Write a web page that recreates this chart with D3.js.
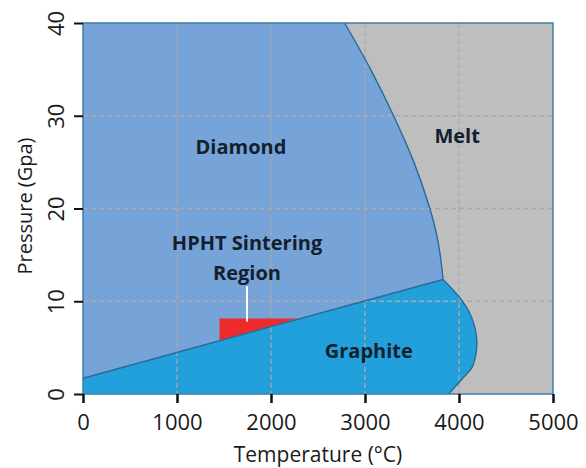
<!DOCTYPE html>
<html>
<head>
<meta charset="utf-8">
<script src="https://cdn.jsdelivr.net/npm/d3@7"></script>
<style>
  body { margin: 0; background: #fff; }
  text { font-family: "Open Sans", sans-serif; }
</style>
</head>
<body>
<svg width="586" height="468"></svg>
<script>
// phase boundaries, [temperature °C, pressure GPa]
var triplePoint = [3830, 12.35];
var diamondGraphiteLine = [[0, 1.7], triplePoint];
var diamondMeltCurve = [triplePoint, [3800, 15], [3755, 17.5], [3690, 20], [3520, 25], [3304, 30], [3060, 35], [2783, 40]];
var graphiteMeltCurve = [triplePoint, [3925, 11.35], [4014, 10.3], [4100, 9.0], [4160, 7.5], [4190, 5.8], [4180, 4.3], [4140, 2.9], [4040, 1.7], [3889, 0]];
var sinteringRegion = [[1452, 8.15], [2285, 8.15], [1452, 5.74]];
var pointer = [[1745, 7.8], [1745, 11.6]];

var xTicks = [0, 1000, 2000, 3000, 4000, 5000];
var yTicks = [0, 10, 20, 30, 40];

var labels = [
  {text: "Diamond", t: 1680, p: 26.6},
  {text: "Melt", t: 3980, p: 27.8},
  {text: "HPHT Sintering", t: 1745, p: 16.3},
  {text: "Region", t: 1745, p: 13.0},
  {text: "Graphite", t: 3040, p: 4.6}
];

var svg = d3.select("svg"),
    margin = {top: 23, right: 33, bottom: 74, left: 83},
    width = 586 - margin.left - margin.right,
    height = 468 - margin.top - margin.bottom;

var g = svg.append("g").attr("transform", "translate(" + margin.left + "," + margin.top + ")");

var x = d3.scaleLinear().domain([0, 5000]).range([0, width]);
var y = d3.scaleLinear().domain([0, 40]).range([height, 0]);

var line = d3.line().x(d => x(d[0])).y(d => y(d[1]));
var smooth = d3.line().x(d => x(d[0])).y(d => y(d[1])).curve(d3.curveCatmullRom.alpha(0.5));

// strip the leading "M x,y" so a curve can be appended to a path
function tail(path) {
  var i = path.search(/[CL]/);
  return path.slice(i);
}

// melt is the background
g.append("rect").attr("width", width).attr("height", height).attr("fill", "#bebebe");

// diamond field
var dm = smooth(diamondMeltCurve);
g.append("path")
  .attr("d", "M" + x(0) + "," + y(40) + "L" + x(0) + "," + y(1.7) + "L" + x(triplePoint[0]) + "," + y(triplePoint[1]) + tail(dm) + "Z")
  .attr("fill", "#77a4d8");

// graphite field
var gm = smooth(graphiteMeltCurve);
g.append("path")
  .attr("d", "M" + x(0) + "," + y(0) + "L" + x(0) + "," + y(1.7) + "L" + x(triplePoint[0]) + "," + y(triplePoint[1]) + tail(gm) + "Z")
  .attr("fill", "#22a0dc");

// grid
g.selectAll(".gx").data(xTicks.slice(1, -1)).enter().append("line")
  .attr("x1", d => x(d)).attr("x2", d => x(d)).attr("y1", 0).attr("y2", height)
  .attr("stroke", "#a9a9a9").attr("stroke-width", 1.3).attr("stroke-dasharray", "5,3");
g.selectAll(".gy").data(yTicks.slice(1, -1)).enter().append("line")
  .attr("y1", d => y(d)).attr("y2", d => y(d)).attr("x1", 0).attr("x2", width)
  .attr("stroke", "#a9a9a9").attr("stroke-width", 1.3).attr("stroke-dasharray", "5,3");

// sintering region
g.append("path").attr("d", line(sinteringRegion) + "Z").attr("fill", "#ee2a2a");

// boundaries
g.append("path").attr("d", line(diamondGraphiteLine)).attr("fill", "none").attr("stroke", "#2a6a98").attr("stroke-width", 1.4);
g.append("path").attr("d", dm).attr("fill", "none").attr("stroke", "#2a6a98").attr("stroke-width", 1.4);
g.append("path").attr("d", gm).attr("fill", "none").attr("stroke", "#2a6a98").attr("stroke-width", 1.4);

g.append("path").attr("d", line(pointer)).attr("stroke", "#fff").attr("stroke-width", 2);

// frame
g.append("rect").attr("width", width).attr("height", height)
  .attr("fill", "none").attr("stroke", "#3b7eaa").attr("stroke-width", 1.5);

// labels
g.selectAll(".lab").data(labels).enter().append("text")
  .attr("x", d => x(d.t)).attr("y", d => y(d.p))
  .attr("text-anchor", "middle").attr("dy", "0.35em")
  .attr("font-size", 20).attr("font-weight", "bold").attr("fill", "#13202e")
  .text(d => d.text);

// axes
var xAxis = g.append("g").attr("transform", "translate(0," + height + ")")
  .call(d3.axisBottom(x).tickValues(xTicks).tickFormat(d3.format("d")).tickSize(9));
var yAxis = g.append("g")
  .call(d3.axisLeft(y).tickValues(yTicks).tickFormat(d3.format("d")).tickSize(9));

[xAxis, yAxis].forEach(a => {
  a.select(".domain").remove();
  a.selectAll("line").attr("stroke", "#111").attr("stroke-width", 2.5);
  a.selectAll("text").attr("font-size", 22).attr("fill", "#1a1a1a").style("font-family", "'Open Sans', sans-serif");
});
yAxis.selectAll("line").attr("stroke-width", 2);
yAxis.selectAll(".tick text")
  .attr("transform", "rotate(-90)")
  .attr("x", 0).attr("y", -19).attr("dy", "0")
  .attr("text-anchor", "middle");
xAxis.selectAll(".tick text").attr("dy", "0.71em").attr("y", 20);

svg.append("text")
  .attr("x", margin.left + x(2500)).attr("y", 462)
  .attr("text-anchor", "middle").attr("font-size", 21).attr("fill", "#1a1a1a")
  .text("Temperature (°C)");

svg.append("text")
  .attr("transform", "translate(32,206) rotate(-90)")
  .attr("text-anchor", "middle").attr("font-size", 20).attr("fill", "#1a1a1a")
  .text("Pressure (Gpa)");
</script>
</body>
</html>
